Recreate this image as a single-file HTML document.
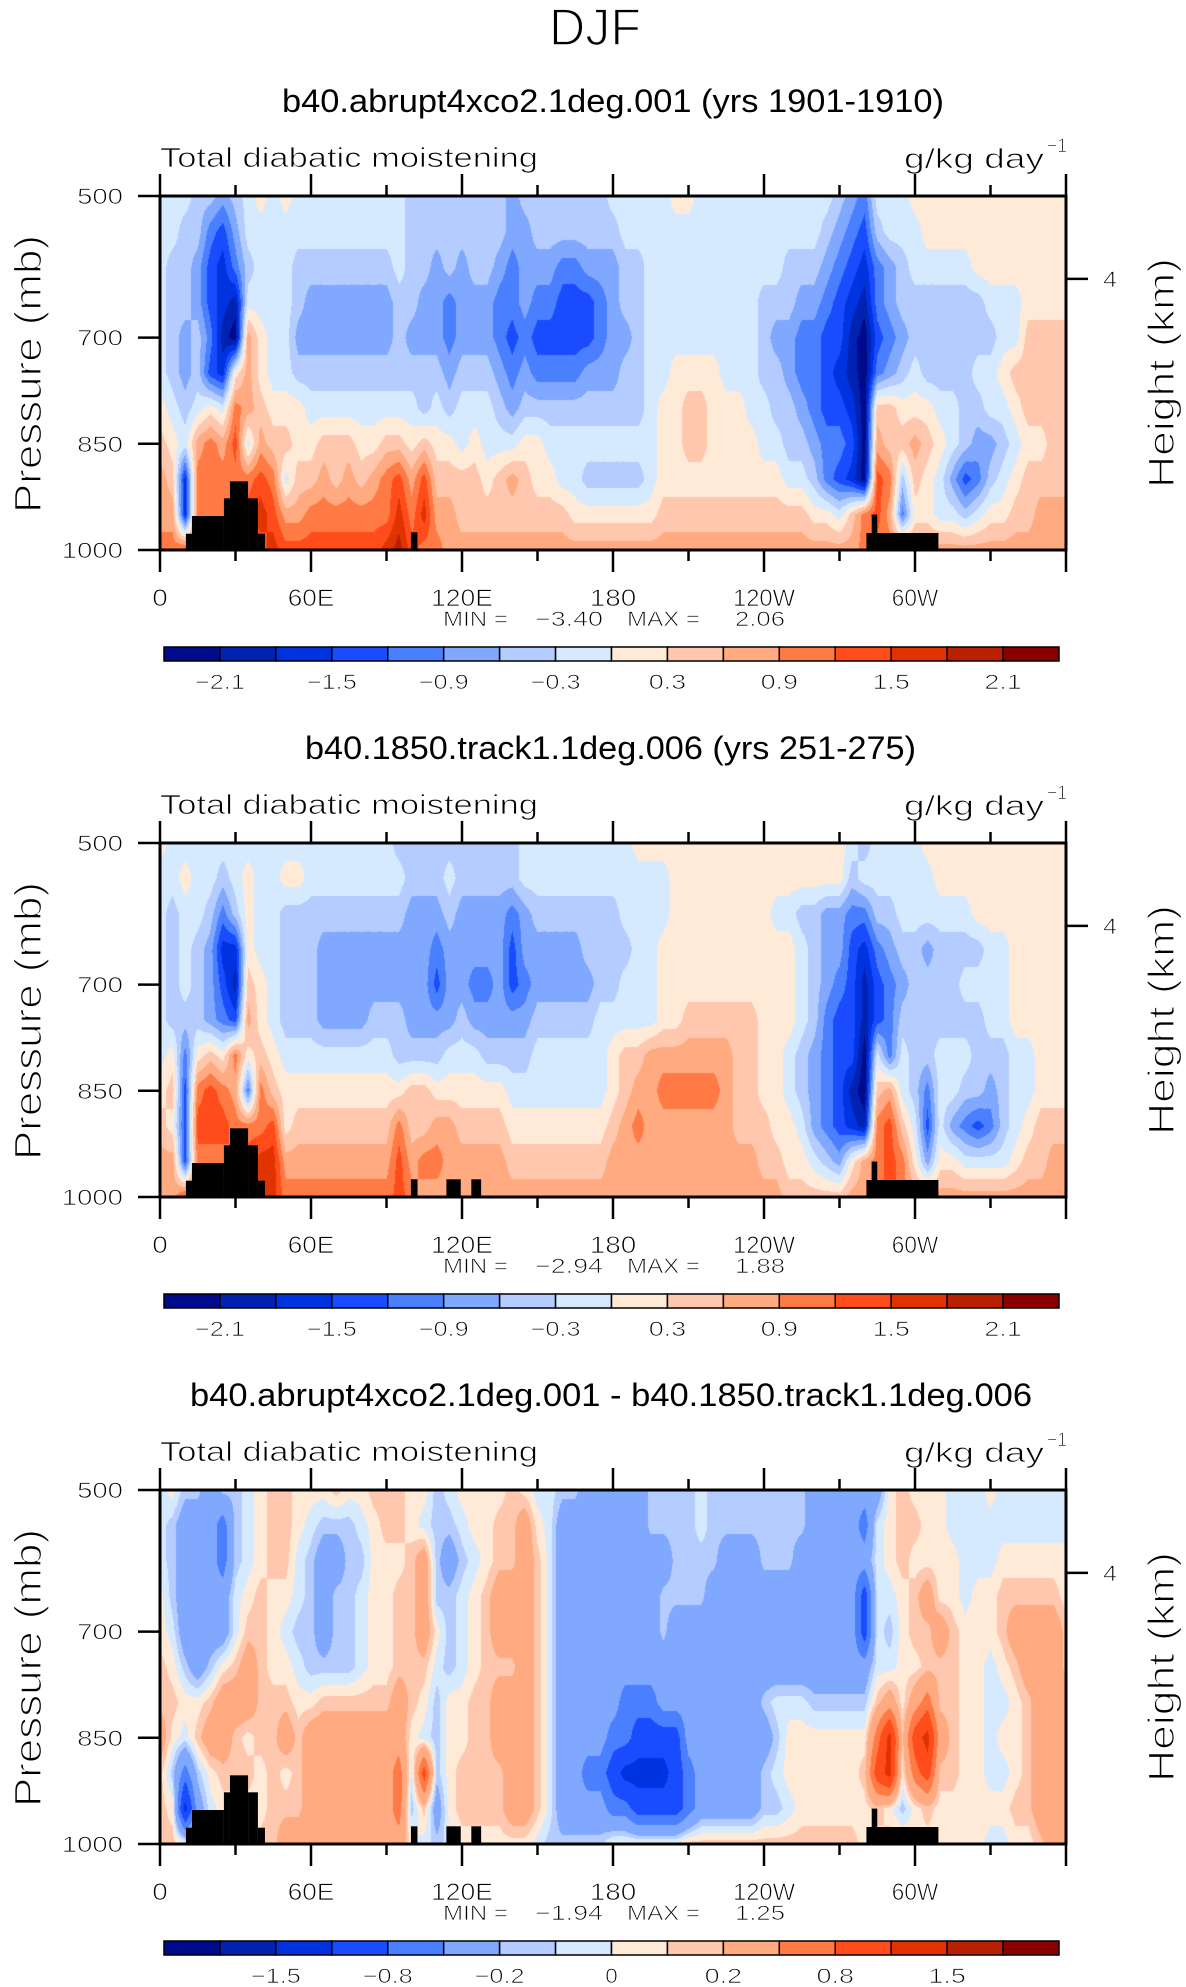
<!DOCTYPE html>
<html><head><meta charset="utf-8"><title>DJF Total diabatic moistening</title>
<style>
html,body{margin:0;padding:0;background:#fff;}
#page{position:relative;width:1186px;height:1987px;overflow:hidden;background:#fff;}
canvas{position:absolute;}
svg{position:absolute;left:0;top:0;}
text{font-family:"Liberation Sans",sans-serif;fill:#000;}
text.thin{stroke:#fff;stroke-width:0.8px;}
</style></head>
<body>
<div id="page">
<canvas id="cv0" width="906" height="354" style="left:160px;top:196px"></canvas>
<canvas id="cv1" width="906" height="354" style="left:160px;top:843px"></canvas>
<canvas id="cv2" width="906" height="354" style="left:160px;top:1490px"></canvas>
<svg id="ov" width="1186" height="1987"></svg>
</div>
<script>
// ---------- chart data ----------
const lons = [];
for (let i = 0; i <= 72; i++) lons.push(i * 5);
const pressures = [500,550,600,650,700,750,800,850,900,950,1000];
const colors = ["#000a8c","#0022b0","#0033e0","#1a4cff","#4a80ff","#80a8ff","#b4ccff","#d6eaff","#ffead8","#ffc8ae","#ffaa80","#ff7a45","#ff4c1a","#e03300","#b82000","#8a0000"];
const levelsAbs = [-2.1,-1.8,-1.5,-1.2,-0.9,-0.6,-0.3,0,0.3,0.6,0.9,1.2,1.5,1.8,2.1];
const levelsDiff = [-2,-1.5,-1.2,-0.8,-0.5,-0.2,-0.1,0,0.1,0.2,0.5,0.8,1.2,1.5,2];
const cbLabelsAbs = ["-2.1","-1.5","-0.9","-0.3","0.3","0.9","1.5","2.1"];
const cbLabelsDiff = ["-1.5","-0.8","-0.2","0","0.2","0.8","1.5"];
const cbLabelIdxAbs = [0,2,4,6,8,10,12,14];
const cbLabelIdxDiff = [1,3,5,7,9,11,13];
const xTickLons = [0,30,60,90,120,150,180,210,240,270,300,330,360];
const xTickLabels = ["0","","60E","","120E","","180","","120W","","60W","",""];
const yTickPressures = [500,700,850,1000];
const yTickLabels = ["500","700","850","1000"];
const heightTickP = [617];
const heightTickLabels = ["4"];
const titles = ["b40.abrupt4xco2.1deg.001 (yrs 1901-1910)","b40.1850.track1.1deg.006 (yrs 251-275)","b40.abrupt4xco2.1deg.001 - b40.1850.track1.1deg.006"];
const minVals = ["\u22123.40","\u22122.94","\u22121.94"];
const maxVals = ["2.06","1.88","1.25"];
// terrain blocks: [lonStart, lonEnd, topPressure]
const terrain1 = [[10.3,12.7,977],[12.7,25.4,952],[25.4,27.8,927],[27.8,35,903],[35,38.9,927],[38.9,41.7,977],[99.7,102.3,975],[280.7,309.3,976],[282.8,285,950]];
const terrain2 = [[10.3,12.7,977],[12.7,25.4,952],[25.4,27.8,927],[27.8,35,903],[35,38.9,927],[38.9,41.7,977],[99.7,102.3,975],[113.8,119.5,975],[123.7,127.6,975],[280.7,309.3,976],[282.8,285,950]];

// Panel 1 values (g/kg/day), rows by pressure, columns every 5 deg lon
const p1_500 = [-.15,-.15,-.15,-.45,-.45,-.75,-.45,-.15,.15,-.15, .15,-.15,-.15,-.15,-.15,-.15,-.15,-.15,-.15,-.15, -.45,-.45,-.45,-.45,-.45,-.45,-.45,-.45,-.75,-.45, -.45,-.45,-.45,-.45,-.45,-.45,-.15,-.15,-.15,-.15, -.15,.15,.15,-.15,-.15,-.15,-.15,-.15,-.15,-.15, -.15,-.15,-.15,-.15,-.45,-.75,-1.05,-.15,-.15,-.15, .15,.15,.15,.15,.15,.15,.15,.15,.15,.15, .15,.15,.15];
const p1_550 = [-.15,-.15,-.45,-.45,-1.05,-1.35,-.75,-.15,-.15,-.15, -.15,-.15,-.15,-.15,-.15,-.15,-.15,-.15,-.15,-.15, -.45,-.45,-.45,-.45,-.45,-.45,-.45,-.45,-.75,-.75, -.45,-.45,-.45,-.45,-.45,-.45,-.45,-.15,-.15,-.15, -.15,-.15,-.15,-.15,-.15,-.15,-.15,-.15,-.15,-.15, -.15,-.15,-.15,-.45,-.75,-1.05,-1.35,-.45,-.15,-.15, -.15,.15,.15,.15,.15,.15,.15,.15,.15,.15, .15,.15,.15];
const p1_600 = [-.15,-.45,-.45,-.75,-1.35,-1.65,-1.05,-.45,-.15,-.15, -.15,-.45,-.45,-.45,-.45,-.45,-.45,-.45,-.45,-.15, -.45,-.45,-.75,-.45,-.75,-.45,-.45,-.75,-1.05,-.75, -.75,-.75,-1.05,-1.05,-.75,-.75,-.75,-.45,-.45,-.15, -.15,-.15,-.15,-.15,-.15,-.15,-.15,-.15,-.15,-.15, -.45,-.45,-.45,-.75,-1.05,-1.35,-1.65,-1.05,-.75,-.45, -.15,-.15,-.15,-.15,-.15,.15,.15,.15,.15,.15, .15,.15,.15];
const p1_650 = [-.15,-.45,-.45,-.75,-1.35,-1.65,-1.95,-.15,-.15,-.15, -.15,-.45,-.75,-.75,-.75,-.75,-.75,-.75,-.75,-.45, -.45,-.75,-.75,-1.05,-.75,-.75,-.75,-1.05,-1.05,-.75, -1.05,-1.05,-1.35,-1.35,-1.35,-1.05,-.75,-.45,-.45,-.15, -.15,-.15,-.15,-.15,-.15,-.15,-.15,-.15,-.45,-.45, -.45,-.75,-.75,-1.05,-1.35,-1.65,-1.95,-1.05,-.75,-.45, -.45,-.45,-.45,-.45,-.45,-.45,-.15,-.15,-.15,.15, .15,.15,.15];
const p1_700 = [-.15,-.45,-.75,-.45,-1.05,-1.95,-2.3,.75,.15,-.15, -.15,-.75,-.75,-.75,-.75,-.75,-.75,-.75,-.75,-.45, -.75,-.75,-.75,-1.05,-.75,-.75,-.75,-1.05,-1.35,-1.05, -1.35,-1.35,-1.35,-1.35,-1.35,-1.05,-.75,-.75,-.45,-.15, -.15,-.15,-.15,-.15,-.15,-.15,-.15,-.15,-.45,-.75, -.75,-1.05,-1.05,-1.35,-1.35,-1.95,-2.3,-1.35,-1.05,-.75, -.45,-.45,-.45,-.45,-.45,-.45,-.45,-.15,-.15,.45, .45,.45,.45];
const p1_750 = [-.15,-.45,-.75,-.45,-1.35,-1.65,.15,.75,.15,-.15, -.15,-.45,-.45,-.45,-.45,-.45,-.45,-.45,-.45,-.45, -.45,-.45,-.45,-.75,-.45,-.45,-.45,-.75,-1.05,-.75, -1.05,-1.05,-1.05,-1.05,-.75,-.75,-.75,-.45,-.45,-.15, -.15,.15,.15,.15,.15,-.15,-.15,-.15,-.45,-.45, -.75,-1.05,-1.05,-1.35,-1.65,-1.95,-2.3,-1.05,-.75,-.45, -.15,-.45,-.45,-.45,-.45,-.15,-.15,.15,.45,.45, .45,.45,.45];
const p1_800 = [.15,-.15,-.45,-.15,.15,-.15,1.05,.75,.45,.15, .15,.15,-.15,-.15,-.15,-.15,-.15,-.15,-.15,-.15, -.15,-.45,-.15,-.45,-.15,-.15,-.15,-.45,-.75,-.45, -.45,-.45,-.45,-.45,-.45,-.45,-.45,-.45,-.45,-.15, .15,.15,.45,.45,.15,.15,.15,-.15,-.15,-.45, -.45,-.75,-1.05,-1.35,-1.35,-1.65,-2.3,.45,.45,.15, .15,.15,-.15,-.15,-.45,-.45,-.15,-.15,.15,.45, .45,.45,.45];
const p1_850 = [.45,.15,-.15,.75,1.05,.75,1.35,-.15,.75,.45, .45,.15,.15,.45,.45,.45,.15,.15,.45,.45, .15,.45,.15,.15,-.15,.15,-.15,-.15,-.15,.15, .15,-.15,-.15,-.15,-.15,-.15,-.15,-.15,-.15,-.15, .15,.15,.45,.45,.15,.15,.15,.15,-.15,-.15, -.45,-.45,-.75,-1.05,-1.05,-1.35,-2.3,.75,.45,.45, .75,.45,.15,-.15,-.45,-.75,-.75,-.45,-.15,.15, .15,.45,.45];
const p1_900 = [.75,.45,-1.65,1.05,1.05,1.05,1.05,1.05,1.35,1.05, -.15,.45,.45,.75,.45,.75,.45,.75,1.05,1.35, .75,1.35,.45,.45,.45,.45,.15,.45,.75,.45, .15,.15,-.15,-.15,-.45,-.45,-.45,-.45,-.45,-.15, .15,.15,.15,.15,.15,.15,.15,.15,.15,.15, -.15,-.15,-.45,-1.05,-1.35,-1.65,-2.3,1.35,1.05,-.45, .45,.15,-.15,-.75,-1.35,-1.05,-.45,-.15,.15,.45, .45,.45,.45];
const p1_950 = [.75,.75,-1.65,1.05,1.05,1.05,1.35,1.35,1.65,1.35, .75,.75,1.05,1.05,1.05,1.05,1.05,1.05,1.05,1.65, 1.05,1.65,.75,.75,.45,.45,.45,.45,.45,.45, .45,.45,.45,.15,.15,.15,.15,.15,.15,.15, .45,.45,.45,.45,.45,.45,.45,.45,.45,.45, .45,.45,.15,.15,-.15,.45,1.05,1.35,.75,-1.05, .15,.15,-.15,-.15,-.45,-.15,.15,.15,.45,.45, .75,.75,.75];
const p1_1000 = [1.05,1.05,1.35,1.35,1.35,1.35,1.35,1.35,1.35,1.65, 1.35,1.35,1.35,1.35,1.35,1.35,1.35,1.35,1.65,1.95, 1.35,1.05,1.05,.75,.75,.75,.75,.75,.75,.75, .75,.75,.75,.75,.75,.75,.75,.75,.75,.75, .75,.75,.75,.75,.75,.75,.75,.75,.75,.75, .75,.75,.75,.75,.75,.75,1.05,1.05,1.05,1.05, .75,.75,.75,.75,.75,.75,.75,.75,.75,.75, .75,.75,.75];

// Panel 2 values
const p2_500 = [.15,-.15,-.15,-.15,-.15,-.15,-.15,-.15,-.15,-.15, -.15,-.15,-.15,-.15,-.15,-.15,-.15,-.15,-.15,-.45, -.45,-.45,-.45,-.45,-.45,-.45,-.45,-.45,-.45,-.15, -.15,-.15,-.15,-.15,-.15,-.15,-.15,-.15,.15,.15, .15,.15,.15,.15,.15,.15,.15,.15,.15,.15, .15,.15,.15,.15,.15,-.15,-.45,-.15,-.15,-.15, -.15,.15,.15,.15,.15,.15,.15,.15,.15,.15, .15,.15,.15];
const p2_550 = [-.15,-.15,.15,-.15,-.15,-.45,-.15,.15,-.15,-.15, .15,.15,-.15,-.15,-.15,-.15,-.15,-.15,-.15,-.15, -.45,-.45,-.45,-.15,-.45,-.45,-.45,-.45,-.45,-.15, -.15,-.15,-.15,-.15,-.15,-.15,-.15,-.15,-.15,-.15, -.15,.15,.15,.15,.15,.15,.15,.15,.15,.15, .15,.15,.15,.15,.15,-.45,-.15,-.15,-.15,-.15, -.15,-.15,.15,.15,.15,.15,.15,.15,.15,.15, .15,.15,.15];
const p2_600 = [-.15,-.45,-.15,-.15,-.45,-1.05,-.45,.15,-.15,-.15, -.45,-.45,-.45,-.45,-.45,-.45,-.45,-.45,-.45,-.45, -.75,-.75,-.75,-.45,-.75,-.75,-.75,-.75,-1.05,-.75, -.45,-.45,-.45,-.45,-.45,-.45,-.45,-.15,-.15,-.15, -.15,.15,.15,.15,.15,.15,.15,.15,.15,-.15, -.15,-.45,-.45,-.75,-.75,-1.05,-1.05,-.45,-.45,-.15, -.15,-.15,-.15,-.15,-.15,.15,.15,.15,.15,.15, .15,.15,.15];
const p2_650 = [-.15,-.45,-.15,-.45,-.75,-1.65,-1.65,.15,-.15,-.15, -.45,-.45,-.45,-.75,-.75,-.75,-.75,-.75,-.75,-.75, -.75,-.75,-1.05,-.75,-.75,-.75,-.75,-.75,-1.35,-.75, -.75,-.75,-.75,-.75,-.45,-.45,-.45,-.45,-.15,-.15, .15,.15,.15,.15,.15,.15,.15,.15,.15,.15, .15,-.15,-.45,-.75,-.75,-1.35,-1.65,-1.05,-.75,-.45, -.45,-.75,-.45,-.45,-.45,-.45,-.15,-.15,.15,.15, .15,.15,.15];
const p2_700 = [-.15,-.45,-.15,-.45,-.75,-1.35,-1.95,.45,.15,-.15, -.45,-.45,-.45,-.75,-.75,-.75,-.75,-.75,-.75,-.75, -.75,-.75,-1.35,-.75,-.75,-1.05,-1.05,-.75,-1.35,-1.05, -.75,-.75,-.75,-.75,-.75,-.45,-.45,-.15,-.15,-.15, .15,.15,.15,.15,.15,.15,.15,.15,.15,.15, .15,-.15,-.45,-.75,-1.05,-1.35,-1.95,-1.35,-1.05,-.75, -.45,-.45,-.45,-.45,-.15,-.15,-.15,-.15,.15,.15, .15,.15,.15];
const p2_750 = [-.15,-.45,-.45,-.45,-.75,-1.05,-1.35,.75,.15,-.15, -.45,-.45,-.45,-.75,-.75,-.75,-.75,-.45,-.45,-.45, -.75,-.75,-.75,-.75,-.45,-.75,-.75,-.75,-.75,-.75, -.45,-.45,-.45,-.45,-.45,-.15,-.15,-.15,-.15,-.15, .15,.15,.45,.45,.45,.45,.45,.45,.15,.15, .15,-.15,-.45,-1.05,-1.35,-1.35,-1.95,-1.35,-1.05,-.45, -.45,-.45,-.45,-.45,-.45,-.45,-.15,-.15,.15,.15, .15,.15,.15];
const p2_800 = [-.15,.15,-1.05,.15,.45,.15,1.05,.15,.45,.15, -.15,-.15,-.15,-.15,-.15,-.15,-.15,-.15,-.15,-.45, -.45,-.45,-.45,-.15,-.15,-.15,-.45,-.45,-.45,-.45, -.15,-.15,-.15,-.15,-.15,-.15,.15,.45,.45,.75, .75,.75,.75,.75,.75,.75,.45,.45,.15,.15, -.15,-.45,-.75,-1.05,-1.35,-1.35,-2.3,-.15,-1.05,-.15, -.45,-.45,-.15,-.15,-.15,-.45,-.45,-.45,-.15,-.15, .15,.15,.15];
const p2_850 = [.15,.45,-1.35,1.05,1.35,1.05,.75,-1.05,1.05,.45, .15,.15,.15,.15,.15,.15,.15,.15,.15,.15, .45,.45,.15,.15,.15,.15,.15,.15,-.15,-.15, -.15,-.15,-.15,-.15,-.15,-.15,.15,.45,.75,.75, 1.05,1.05,1.05,1.05,1.05,.75,.45,.45,.15,.15, -.15,-.45,-.75,-1.05,-1.35,-1.95,-2.3,.45,.75,-.15, -.45,-1.05,-.15,-.15,-.45,-.45,-.75,-.45,-.15,-.15, .15,.15,.15];
const p2_900 = [.45,.15,-1.35,1.35,1.35,1.35,1.05,1.05,1.05,1.35, .15,.45,.45,.45,.45,.45,.45,.45,.45,1.05, .45,.45,.75,.75,.45,.45,.45,.45,.15,.15, .15,.15,.15,.15,.15,.15,.45,.75,1.05,.75, .75,.75,.75,.75,.75,.75,.45,.45,.45,.15, .15,-.15,-.75,-1.05,-1.35,-1.65,-1.95,1.05,1.35,.45, -.15,-1.35,-.15,-.75,-1.05,-1.35,-1.05,-.45,-.15,.15, .45,.45,.45];
const p2_950 = [.75,.75,-1.35,1.05,1.05,1.05,1.35,1.35,1.65,1.65, .75,.75,.75,.75,.75,.75,.75,.75,.75,1.35, .75,1.05,1.05,.75,.75,.75,.75,.75,.45,.45, .45,.45,.45,.45,.45,.45,.75,.75,.75,.75, .75,.75,.75,.75,.75,.75,.75,.75,.45,.45, .15,.15,-.15,-.45,-.75,.15,.75,1.05,1.35,1.05, .15,-.75,.15,.15,-.15,-.15,-.15,-.15,.15,.45, .45,.75,.75];
const p2_1000 = [.75,.75,1.35,1.35,1.35,1.35,1.35,1.35,1.65,1.65, 1.05,1.05,1.05,1.05,1.05,1.05,1.05,1.05,1.05,1.35, 1.05,.75,.75,.75,.75,.75,.75,.75,.75,.75, .75,.75,.75,.75,.75,.75,.75,.75,.75,.75, .75,.75,.75,.75,.75,.75,.75,.75,.75,.75, .45,.45,.45,.45,.45,.75,.75,1.05,1.35,1.05, .75,.75,.75,.75,.75,.75,.75,.75,.75,.75, .75,.75,.75];

// Panel 3 values (difference)
const p3_500 = [-.05,.05,-.15,-.15,-.35,-.15,-.15,-.05,.05,.15, .15,.05,.05,.05,.15,.05,.05,.15,.15,.15, .05,.05,-.15,-.05,.05,.05,.05,.05,.15,.05, -.05,-.05,-.15,-.15,-.35,-.35,-.35,-.35,-.35,-.15, -.15,-.15,-.15,-.05,-.15,-.15,-.15,-.15,-.15,-.15, -.15,-.15,-.35,-.35,-.35,-.35,-.35,-.35,.05,.15, .05,.05,.05,-.05,-.05,-.05,.05,-.05,-.05,-.05, -.05,-.05,-.05];
const p3_550 = [-.05,-.15,-.35,-.35,-.35,-.65,-.15,-.05,.05,.15, .15,.05,-.05,-.15,-.15,-.15,-.05,.05,.15,.15, .05,-.05,-.15,-.15,-.05,.05,.05,.15,.15,.35, .05,-.05,-.35,-.35,-.35,-.35,-.35,-.35,-.35,-.15, -.15,-.15,-.15,-.05,-.15,-.15,-.15,-.15,-.15,-.15, -.15,-.15,-.35,-.35,-.35,-.35,-.65,-.05,.05,.15, .15,.05,.05,-.05,-.05,-.05,-.05,-.05,-.05,-.05, -.05,-.05,-.05];
const p3_600 = [-.05,-.15,-.35,-.35,-.35,-.65,-.15,-.05,.05,.15, .15,-.05,-.15,-.35,-.35,-.15,-.15,.05,.05,.05, .15,.35,-.15,-.35,-.15,-.05,.05,.15,.15,.35, .15,-.05,-.35,-.35,-.35,-.35,-.35,-.35,-.35,-.35, -.35,-.15,-.15,-.15,-.15,-.35,-.35,-.35,-.15,-.15, -.15,-.35,-.35,-.35,-.35,-.35,-.35,-.05,.05,.15, .05,.05,.05,.05,-.05,-.05,-.05,.05,.05,.05, .05,.05,.05];
const p3_650 = [.05,-.15,-.35,-.35,-.35,-.35,-.05,.05,.15,.05, .05,-.05,-.15,-.35,-.15,-.15,-.05,.05,.05,.15, .15,.35,-.15,-.15,-.05,.05,.15,.35,.35,.35, .15,-.05,-.35,-.35,-.35,-.35,-.35,-.35,-.35,-.35, -.15,-.15,-.15,-.15,-.35,-.35,-.35,-.35,-.35,-.35, -.35,-.35,-.35,-.35,-.35,-.35,-1,-.05,-.05,.05, .15,.35,.05,.05,-.05,.05,.05,.15,.15,.15, .15,.15,.05];
const p3_700 = [.05,-.05,-.35,-.35,-.35,-.35,-.05,.15,.15,.05, -.05,-.15,-.15,-.35,-.15,-.15,-.05,.05,.05,.15, .15,.35,.05,-.15,-.05,.05,.15,.35,.35,.35, .15,-.05,-.35,-.35,-.35,-.35,-.35,-.35,-.35,-.35, -.15,-.35,-.35,-.35,-.35,-.35,-.35,-.35,-.35,-.35, -.35,-.35,-.35,-.35,-.35,-.35,-1,-.05,-.15,.05, .15,.15,.35,.15,.05,.05,.05,.15,.35,.35, .35,.35,.15];
const p3_750 = [.15,.05,-.15,-.35,-.15,.05,.15,.35,.15,.05, .05,-.05,-.15,-.15,-.15,-.15,-.05,.05,.05,.15, .15,.15,-.05,-.15,-.05,.05,.15,.15,.15,.35, .15,-.05,-.35,-.35,-.35,-.35,-.35,-.35,-.35,-.35, -.35,-.35,-.35,-.35,-.35,-.35,-.35,-.35,-.35,-.35, -.35,-.35,-.35,-.35,-.35,-.35,-.35,-.05,-.05,.05, .05,.15,.15,.15,.05,.05,-.05,.05,.15,.35, .35,.35,.15];
const p3_800 = [.15,.15,.05,.05,.15,.35,.35,.35,.15,.15, .15,.05,.05,.15,.15,.15,.15,.15,.15,.35, .15,.05,-.15,.05,.05,.15,.15,.35,.35,.35, .15,-.05,-.35,-.35,-.35,-.35,-.35,-.65,-.65,-.65, -.35,-.35,-.35,-.35,-.35,-.35,-.35,-.35,-.15,-.05, -.05,-.05,-.15,-.15,-.15,-.15,-.15,.15,.35,.05, .35,.65,.15,.15,.05,.05,-.05,-.05,.05,.15, .35,.35,.35];
const p3_850 = [.35,.05,-.05,.15,.35,.35,.15,.05,.15,.15, .35,.15,.35,.35,.35,.35,.35,.35,.35,.35, .05,-.05,-.15,.05,.05,.15,.15,.35,.35,.35, .15,-.05,-.35,-.35,-.35,-.35,-.65,-.65,-1,-1, -1,-1,-.35,-.35,-.35,-.35,-.35,-.35,-.35,-.15, .05,.05,.05,.05,.05,.05,.05,.65,1.35,.15, 1,1.35,.35,.15,.05,.05,-.05,.05,.05,.15, .35,.35,.35];
const p3_900 = [.15,-.15,-.65,-.15,.05,.15,.15,.15,.05,.15, .05,.15,.35,.35,.35,.35,.35,.35,.35,.65, -.05,1,-.15,.05,.15,.15,.15,.15,.35,.35, .15,-.05,-.35,-.35,-.65,-.65,-1,-1.35,-1.35,-1.35, -1.35,-1,-.65,-.35,-.35,-.35,-.35,-.35,-.15,-.05, .05,.05,.05,.05,.05,.05,.15,1,1.35,.05, .65,1,.15,.15,.05,.05,-.05,-.05,.05,.15, .35,.35,.35];
const p3_950 = [.15,.05,-1.35,-.35,-.05,.05,.05,.05,.05,.15, .15,.15,.35,.35,.35,.35,.35,.35,.35,.65, -.15,.15,-.35,.05,.15,.15,.15,.15,.35,.35, .15,-.05,-.35,-.35,-.35,-.35,-.65,-.65,-1,-1, -1,-1,-.65,-.35,-.35,-.35,-.35,-.35,-.15,-.15, -.05,.05,.05,.05,.05,.05,.05,.15,.05,-.15, .05,.15,.05,.05,.05,.05,.05,.05,.15,.15, .35,.35,.35];
const p3_1000 = [.15,.15,.05,.05,.05,.05,.05,.05,.15,.15, .35,.35,.35,.35,.35,.35,.35,.35,.35,.35, .05,-.05,-.15,-.05,.05,.05,.05,.05,.05,.05, -.05,-.15,-.15,-.15,-.15,-.15,.05,.05,.05,.05, .05,.05,.15,.15,.15,.15,.15,.15,.15,.15, .15,.15,.15,.15,.15,.15,.05,.05,.15,.15, .05,.05,.05,.05,.05,.05,-.05,-.05,.05,.05, .15,.35,.35];

const panel1Rows = [p1_500,p1_550,p1_600,p1_650,p1_700,p1_750,p1_800,p1_850,p1_900,p1_950,p1_1000];
const panel2Rows = [p2_500,p2_550,p2_600,p2_650,p2_700,p2_750,p2_800,p2_850,p2_900,p2_950,p2_1000];
const panel3Rows = [p3_500,p3_550,p3_600,p3_650,p3_700,p3_750,p3_800,p3_850,p3_900,p3_950,p3_1000];

// ---------- layout ----------
const PX0 = 160, PX1 = 1066, PH = 354, PW = 906;
const panelTop = [196, 843, 1490];
function xScale(lon){ return PX0 + lon / 360 * PW; }
function yScale(p, top){ return top + (p - 500) / 500 * PH; }

function sample(rows, lon, p){
  const fi = lon / 5, fj = (p - 500) / 50;
  let i = Math.floor(fi), j = Math.floor(fj);
  if (i >= lons.length - 1) i = lons.length - 2;
  if (j >= pressures.length - 1) j = pressures.length - 2;
  const tx = fi - i, ty = fj - j;
  const a = rows[j][i], b = rows[j][i+1], c = rows[j+1][i], d = rows[j+1][i+1];
  return (a*(1-tx) + b*tx)*(1-ty) + (c*(1-tx) + d*tx)*ty;
}
function levelIndex(v, levels){ let k = 0; while (k < levels.length && v >= levels[k]) k++; return k; }
function hex(c){ return [parseInt(c.substr(1,2),16),parseInt(c.substr(3,2),16),parseInt(c.substr(5,2),16)]; }
const rgb = colors.map(hex);

function drawField(cid, rows, levels){
  const cv = document.getElementById(cid), ctx = cv.getContext('2d');
  const img = ctx.createImageData(PW, PH);
  for (let y = 0; y < PH; y++){
    const p = 500 + (y + 0.5) / PH * 500;
    for (let x = 0; x < PW; x++){
      const lon = (x + 0.5) / PW * 360;
      const k = levelIndex(sample(rows, lon, p), levels);
      const o = (y*PW + x)*4, c = rgb[k];
      img.data[o]=c[0]; img.data[o+1]=c[1]; img.data[o+2]=c[2]; img.data[o+3]=255;
    }
  }
  ctx.putImageData(img, 0, 0);
}
drawField('cv0', panel1Rows, levelsAbs);
drawField('cv1', panel2Rows, levelsAbs);
drawField('cv2', panel3Rows, levelsDiff);

// ---------- SVG overlay ----------
const NS = "http://www.w3.org/2000/svg";
const svg = document.getElementById('ov');
function mk(tag, attrs, parent){
  const e = document.createElementNS(NS, tag);
  for (const k in attrs) e.setAttribute(k, attrs[k]);
  (parent || svg).appendChild(e);
  return e;
}
function txt(str, attrs, parent){ const t = mk('text', attrs, parent); t.textContent = str; t.setAttribute('class', 'thin'); return t; }

const djf = txt("DJF", {x:595, y:45, 'font-size':52, 'text-anchor':'middle', textLength:92, lengthAdjust:'spacingAndGlyphs'});


djf.setAttribute('style', 'stroke-width:1.6px');

const titleX = [[282,662],[305,611],[190,842]];
function charW(s){ return s.length * 15.5; }

for (let n = 0; n < 3; n++){
  const top = panelTop[n], bot = top + PH, off = top - 196;
  const g = mk('g', {});
  
  

  const t = txt(titles[n], {x:titleX[n][0], y:112+off, 'font-size':32, textLength:titleX[n][1], lengthAdjust:'spacingAndGlyphs'}, g);
  t.setAttribute('class', '');
  
  

  const lt = txt("Total diabatic moistening", {x:160, y:167+off, 'font-size':28, textLength:378, lengthAdjust:'spacingAndGlyphs'}, g);
  
  
  const ut = txt("g/kg day", {x:904, y:168+off, 'font-size':28, textLength:140, lengthAdjust:'spacingAndGlyphs'}, g);
  
  
  const us = txt("\u22121", {x:1047, y:152+off, 'font-size':19, textLength:20, lengthAdjust:'spacingAndGlyphs'}, g);
  
  

  // terrain
  const terr = n === 0 ? terrain1 : terrain2;
  for (const b of terr){
    const r = mk('rect', {x:xScale(b[0]), y:yScale(b[2], top), width:xScale(b[1])-xScale(b[0]), height:bot-yScale(b[2], top), fill:'#000'}, g);
    
    
  }

  // frame
  const fr = mk('rect', {x:PX0, y:top, width:PW, height:PH, fill:'none', stroke:'#000', 'stroke-width':3}, g);
  
  

  // x ticks
  xTickLons.forEach((lon, i) => {
    const x = xScale(lon), major = lon % 60 === 0, L = major ? 22 : 11;
    const tb = mk('line', {x1:x, x2:x, y1:bot, y2:bot+L, stroke:'#000', 'stroke-width':2.5}, g);
    
    
    const tt = mk('line', {x1:x, x2:x, y1:top, y2:top-L, stroke:'#000', 'stroke-width':2.5}, g);
    
    
    const lab = xTickLabels[i];
    if (lab){
      const tl = txt(lab, {x:x, y:606+off, 'font-size':24, 'text-anchor':'middle', textLength:charW(lab), lengthAdjust:'spacingAndGlyphs'}, g);
      
      
    }
  });
  // y ticks
  yTickPressures.forEach((p, i) => {
    const y = yScale(p, top);
    const tk = mk('line', {x1:PX0-22, x2:PX0, y1:y, y2:y, stroke:'#000', 'stroke-width':2.5}, g);
    
    
    const lab = yTickLabels[i];
    const tl = txt(lab, {x:123, y:y+8, 'font-size':22, 'text-anchor':'end', textLength:lab.length*15.3, lengthAdjust:'spacingAndGlyphs'}, g);
    
    
  });
  heightTickP.forEach((p, i) => {
    const y = yScale(p, top);
    const tk = mk('line', {x1:PX1, x2:PX1+22, y1:y, y2:y, stroke:'#000', 'stroke-width':2.5}, g);
    
    
    const tl = txt(heightTickLabels[i], {x:1103, y:y+8, 'font-size':22, textLength:14, lengthAdjust:'spacingAndGlyphs'}, g);
    
    
  });

  const yl = txt("Pressure  (mb)", {x:0, y:0, 'font-size':38, 'text-anchor':'middle', textLength:278, lengthAdjust:'spacingAndGlyphs', transform:'translate(41,' + (374+off) + ') rotate(-90)'}, g);
  
  
  yl.setAttribute('style', 'stroke-width:1.3px');
  const yr = txt("Height  (km)", {x:0, y:0, 'font-size':37, 'text-anchor':'middle', textLength:230, lengthAdjust:'spacingAndGlyphs', transform:'translate(1174,' + (373+off) + ') rotate(-90)'}, g);
  
  
  yr.setAttribute('style', 'stroke-width:1.3px');

  // min/max line
  const mn = txt("MIN =", {x:443, y:626+off, 'font-size':21, textLength:65, lengthAdjust:'spacingAndGlyphs'}, g);
  
  
  const mv = txt(minVals[n], {x:603, y:626+off, 'font-size':21, 'text-anchor':'end', textLength:68, lengthAdjust:'spacingAndGlyphs'}, g);
  
  
  const mx = txt("MAX =", {x:627, y:626+off, 'font-size':21, textLength:73, lengthAdjust:'spacingAndGlyphs'}, g);
  
  
  const xv = txt(maxVals[n], {x:735, y:626+off, 'font-size':21, textLength:50, lengthAdjust:'spacingAndGlyphs'}, g);
  
  

  // colorbar
  const cb = mk('g', {}, g);
  
  
  const cbx0 = 164, cbx1 = 1059, cby = 647 + off, cbh = 14, bw = (cbx1 - cbx0) / colors.length;
  colors.forEach((c, k) => {
    const r = mk('rect', {x:cbx0 + k*bw, y:cby, width:bw, height:cbh, fill:c, stroke:'#000', 'stroke-width':1.5}, cb);
    
    
  });
  const labs = n === 2 ? cbLabelsDiff : cbLabelsAbs;
  const idx = n === 2 ? cbLabelIdxDiff : cbLabelIdxAbs;
  labs.forEach((s, k) => {
    const x = cbx0 + (idx[k] + 1) * bw;
    const str = s.replace('-', '\u2212');
    const tl = txt(str, {x:x, y:689+off, 'font-size':21, 'text-anchor':'middle', textLength:str.length*12.5, lengthAdjust:'spacingAndGlyphs'}, cb);
    
    
  });
}
</script>
</body></html>
